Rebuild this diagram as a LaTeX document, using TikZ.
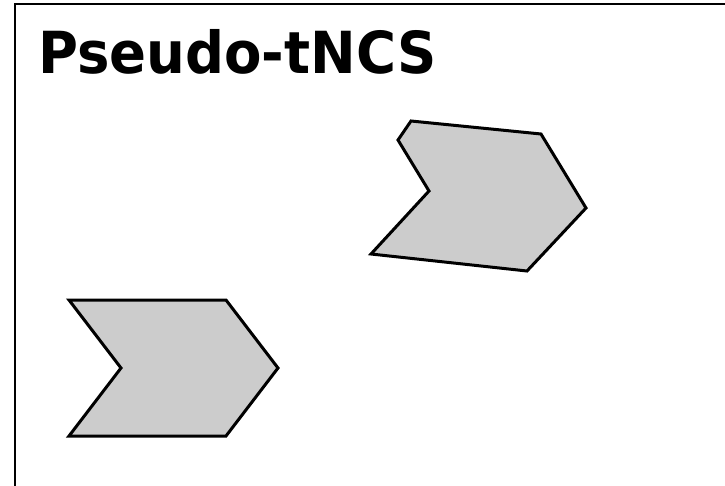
\documentclass[tikz,border=0pt]{standalone}
\usepackage{fontspec}
\setmainfont{DejaVu Sans}
\begin{document}
\begin{tikzpicture}[x=1pt,y=-1pt,
  chevron/.style={draw=black,fill=black!20,line width=3pt,line join=miter},
  framel/.style={draw=black,line width=2.8pt}]
\useasboundingbox (0,0) rectangle (725,485);
% open frame: left and top edges
\draw[framel] (15,490) -- (15,4) -- (730,4);
% title
\node[anchor=base west,inner sep=0pt,font=\bfseries\fontsize{58}{60}\selectfont,xscale=0.94] (title) at (38,73) {Pseudo-tNCS};
% lower chevron
\draw[chevron] (69,300) -- (226,300) -- (278,368) -- (226,436) -- (69,436) -- (121,368) -- cycle;
% upper chevron, tilted and with its corner cut
\draw[chevron] (411,121) -- (541,134) -- (586,208) -- (527,271) -- (371,254) -- (429,191) -- (398,140) -- cycle;
\end{tikzpicture}
\end{document}
